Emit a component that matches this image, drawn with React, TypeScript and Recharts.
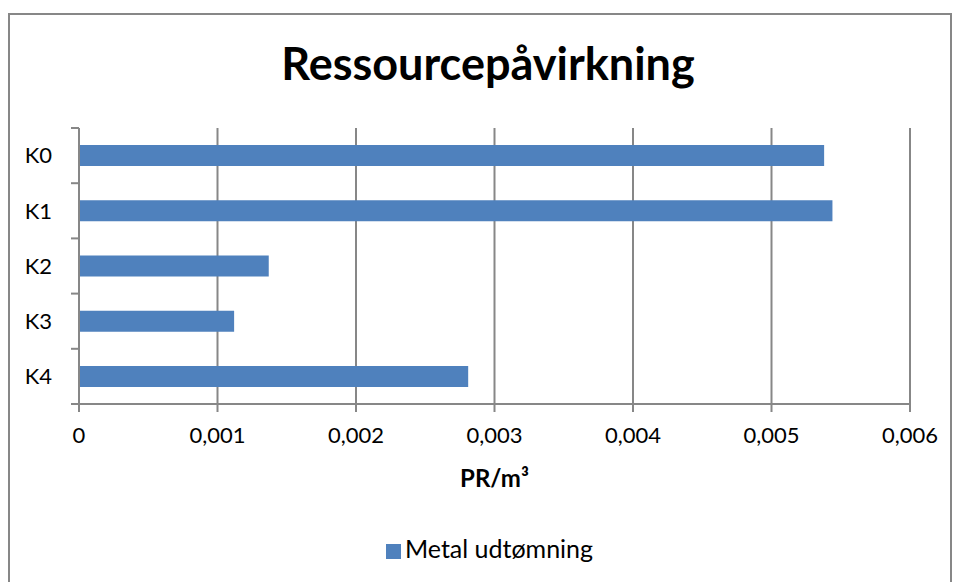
import { BarChart, Bar, XAxis, YAxis, CartesianGrid, Legend, ReferenceLine } from "recharts";

const categories = ["K0", "K1", "K2", "K3", "K4"];
const metalValues = [0.00538, 0.00544, 0.00137, 0.00112, 0.00281];
const xTicks = [0, 0.001, 0.002, 0.003, 0.004, 0.005, 0.006];

const data = categories.map((name, i) => ({ name, metal: metalValues[i] }));

const GRAY = "#878787";
const FONT = "Lato, 'Open Sans', sans-serif";

// chart box and plot margins
const W = 955;
const H = 582;
const M = { top: 128, right: 45, bottom: 84, left: 19 };
const X_AXIS_H = 54;
const LEGEND_H = 40;
const BAND = (H - M.top - M.bottom - X_AXIS_H - LEGEND_H) / categories.length;

const fmt = (v: number) => String(v).replace(".", ",");

// category label at band centre, tick mark on band boundaries (Excel style)
function CatTick(props: any) {
  const { x, y, payload, index } = props;
  const axisX = x + 8 + 19;
  const top = y - BAND / 2;
  return (
    <g>
      <line x1={axisX - 8} x2={axisX} y1={top} y2={top} stroke={GRAY} strokeWidth={2} />
      {index === categories.length - 1 && (
        <line x1={axisX - 8} x2={axisX} y1={y + BAND / 2} y2={y + BAND / 2} stroke={GRAY} strokeWidth={2} />
      )}
      <text x={x} y={y} dy="0.35em" textAnchor="end" fill="#000" fontSize={22} fontFamily={FONT}>
        {payload.value}
      </text>
    </g>
  );
}

export default function App() {
  return (
    <div style={{ position: "absolute", left: 0, top: 0, width: W, height: H, overflow: "hidden", background: "#fff", fontFamily: FONT }}>
      <div style={{ position: "absolute", left: 8, top: 13, width: 940, height: 600, border: `2px solid ${GRAY}` }} />
      <div style={{ position: "absolute", left: 0, top: 33, width: 976, textAlign: "center", fontSize: 45, fontWeight: 700, color: "#000", lineHeight: "60px" }}>
        Ressourcepåvirkning
      </div>
      <BarChart
        width={W}
        height={H}
        data={data}
        layout="vertical"
        barCategoryGap="31%"
        margin={M}
        style={{ position: "absolute", left: 0, top: 0 }}
      >
        <CartesianGrid horizontal={false} stroke={GRAY} strokeWidth={2} />
        <XAxis
          type="number"
          domain={[0, 0.006]}
          ticks={xTicks}
          tickFormatter={fmt}
          height={X_AXIS_H}
          stroke={GRAY}
          strokeWidth={2}
          tickSize={8}
          tickMargin={15}
          tick={{ fill: "#000", fontSize: 22, fontFamily: FONT }}
          label={{ value: "PR/m³", position: "bottom", offset: 12, fill: "#000", fontSize: 24, fontWeight: 700, fontFamily: FONT }}
        />
        <YAxis
          type="category"
          dataKey="name"
          width={60}
          axisLine={{ stroke: GRAY, strokeWidth: 2 }}
          tickLine={false}
          tickSize={8}
          tickMargin={19}
          tick={<CatTick />}
        />
        <Legend
          verticalAlign="bottom"
          height={LEGEND_H}
          iconType="square"
          iconSize={15}
          wrapperStyle={{ bottom: 9, left: 79, width: 831, fontSize: 25, fontFamily: FONT }}
          formatter={(value) => <span style={{ color: "#000" }}>{value}</span>}
        />
        <Bar dataKey="metal" name="Metal udtømning" fill="#4F81BD" isAnimationActive={false} />
        <ReferenceLine x={0} stroke={GRAY} strokeWidth={2} ifOverflow="visible" />
      </BarChart>
    </div>
  );
}
